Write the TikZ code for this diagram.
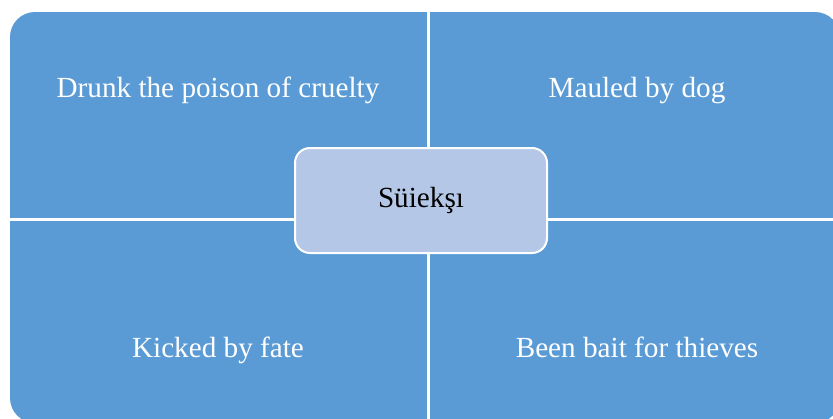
\documentclass[tikz,border=0pt]{standalone}
\usepackage{fontspec}
\setmainfont{Liberation Serif}
\usepackage{xcolor}
\usepackage{tikz}
\usetikzlibrary{calc}
\definecolor{quadblue}{HTML}{5B9BD5}
\definecolor{coreblue}{HTML}{B4C7E7}

\begin{document}
\begin{tikzpicture}[x=1pt,y=-1pt,
    quadtext/.style={anchor=base,text=white,font=\fontsize{29.2}{35}\selectfont},
    core/.style={draw=white,line width=2pt,fill=coreblue,rounded corners=15pt,
                 minimum width=252pt,minimum height=105pt,inner sep=0pt,
                 font=\fontsize{29.2}{35}\selectfont}]
      \useasboundingbox (0,0) rectangle (833,418);
      \coordinate (nw) at (10,12);
      \coordinate (se) at (840,423);
      \coordinate (top) at (428,12);
      \coordinate (bottom) at (428,423);
      \coordinate (left) at (10,219);
      \coordinate (right) at (840,219);

      \fill[quadblue,rounded corners=25pt] (nw) rectangle (se);
      \draw[white,line width=3pt] (top) -- (bottom);
      \draw[white,line width=3pt] (left) -- (right);

      \node[quadtext] (poison) at (218,97) {Drunk the poison of cruelty};
      \node[quadtext] (dog) at (637,97) {Mauled by dog};
      \node[quadtext] (fate) at (218,357) {Kicked by fate};
      \node[quadtext] (thieves) at (637,357) {Been bait for thieves};

      \node[core] (center) at (421,200.5) {Süiekşı};
\end{tikzpicture}
\end{document}
